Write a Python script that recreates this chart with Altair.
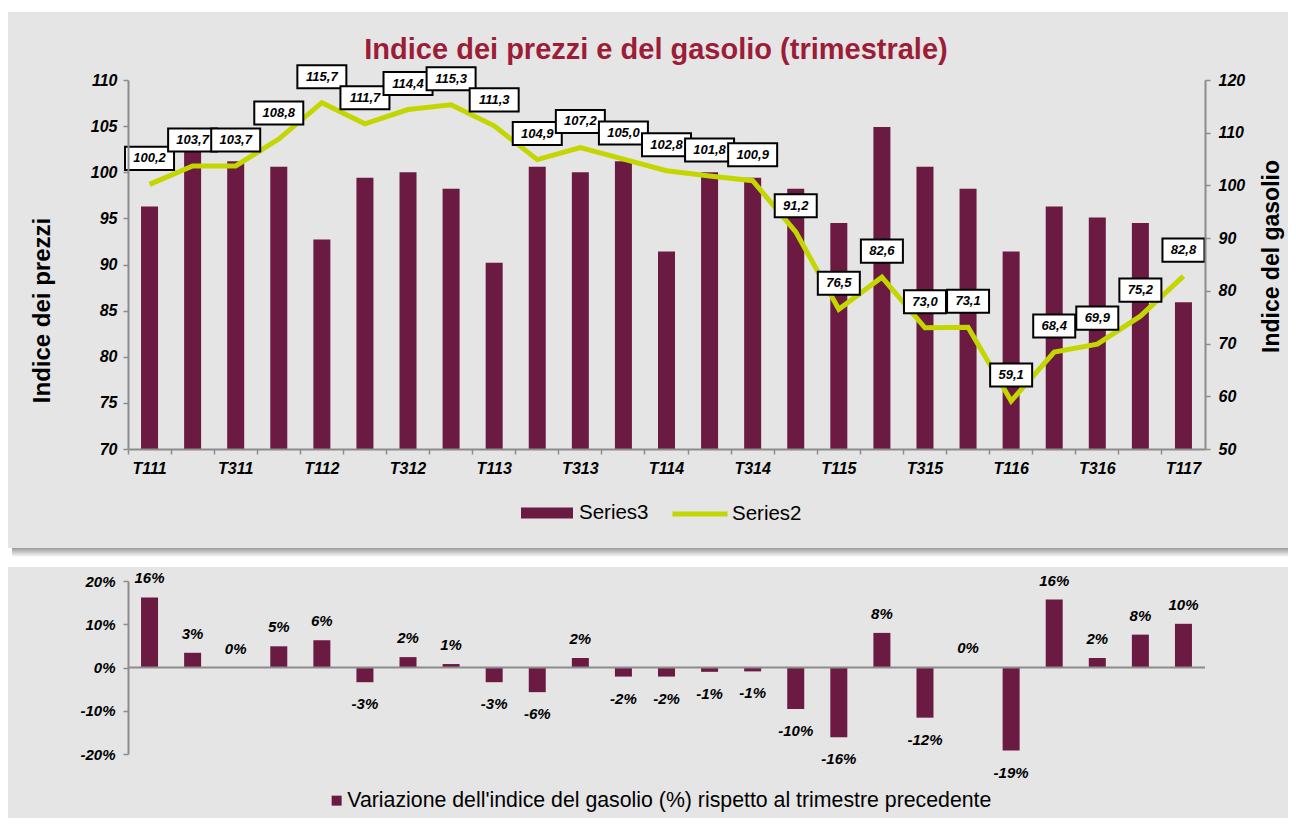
import altair as alt
import pandas as pd

# ---------------- data ----------------
quarters = ["T111", "T211", "T311", "T411", "T112", "T212", "T312", "T412",
            "T113", "T213", "T313", "T413", "T114", "T214", "T314", "T414",
            "T115", "T215", "T315", "T415", "T116", "T216", "T316", "T416",
            "T117"]
prezzi = [96.3, 102.7, 101.2, 100.6, 92.7, 99.4, 100.0, 98.2,
          90.2, 100.6, 100.0, 101.2, 91.4, 100.0, 99.4, 98.2,
          94.5, 104.9, 100.6, 98.2, 91.4, 96.3, 95.1, 94.5,
          85.9]
gasolio = [100.2, 103.7, 103.7, 108.8, 115.7, 111.7, 114.4, 115.3,
           111.3, 104.9, 107.2, 105.0, 102.8, 101.8, 100.9, 91.2,
           76.5, 82.6, 73.0, 73.1, 59.1, 68.4, 69.9, 75.2,
           82.8]
variazione_pct = [16.2, 3.4, 0.0, 4.9, 6.3, -3.4, 2.4, 0.8,
                  -3.4, -5.7, 2.2, -2.1, -2.1, -1.0, -0.9, -9.6,
                  -16.1, 8.0, -11.6, 0.1, -19.2, 15.7, 2.2, 7.6,
                  10.1]

series_bar = "Series3"
series_line = "Series2"
var_label = "Variazione dell'indice del gasolio (%) rispetto al trimestre precedente"
title_text = "Indice dei prezzi e del gasolio (trimestrale)"
left_title = "Indice dei prezzi"
right_title = "Indice del gasolio"

df = pd.DataFrame({"trimestre": quarters, "prezzi": prezzi,
                   "gasolio": gasolio, "var_pct": variazione_pct})
one = pd.DataFrame({"k": [0]})

# ---------------- style ----------------
W = 1077
H1 = 369
H2 = 173
FONT = "Liberation Sans"
MAROON = "#6b1a42"
LIME = "#c4d600"
PANEL = "#e5e5e5"
AXIS_GRAY = "#8c8c8c"
TITLE_RED = "#9c1d37"

shadow_fill = {"gradient": "linear", "x1": 0, "y1": 0, "x2": 0, "y2": 1,
               "stops": [{"offset": 0, "color": "#9a9a9a"},
                         {"offset": 1, "color": "#ffffff"}]}

x_scale = alt.Scale(paddingInner=0, paddingOuter=0)
x_top = alt.X(
    "trimestre:N", sort=quarters, scale=x_scale,
    axis=alt.Axis(title=None, bandPosition=0, zindex=1, labelFontSize=16,
                  labelExpr="(substring(datum.value,1,2)=='1' || substring(datum.value,1,2)=='3') ? datum.value : ''",
                  tickSize=5, labelPadding=6, labelAngle=0, labelBaseline="top"))

y_left = alt.Y(
    "prezzi:Q", scale=alt.Scale(domain=[70, 110], zero=False, nice=False),
    axis=alt.Axis(orient="left", values=list(range(70, 111, 5)), title=left_title,
                  titleX=-86, titleY=230, titleAngle=270, titleAlign="center", zindex=1,
                  titleBaseline="middle", titleFontSize=24, labelPadding=6,
                  labelFontSize=16))

y_right = alt.Y(
    "gasolio:Q", scale=alt.Scale(domain=[50, 120], zero=False, nice=False),
    axis=alt.Axis(orient="right", values=list(range(50, 121, 10)), title=right_title,
                  titleX=66, titleY=176, titleAngle=270, titleAlign="center", zindex=1,
                  titleBaseline="middle", titleFontSize=23, labelPadding=8,
                  labelFontSize=16))

# ---------------- top panel ----------------
panel_top = alt.Chart(one).mark_rect(color=PANEL).encode(
    x=alt.value(-120), x2=alt.value(1160), y=alt.value(-68), y2=alt.value(468))
shadow_top = alt.Chart(one).mark_rect(fill=shadow_fill).encode(
    x=alt.value(-116), x2=alt.value(1160), y=alt.value(468), y2=alt.value(477))
title = alt.Chart(one).mark_text(
    text=title_text, font=FONT, fontSize=29, fontWeight="bold", color=TITLE_RED,
    align="center", baseline="middle").encode(x=alt.value(528), y=alt.value(-30))

bars = alt.Chart(df).transform_calculate(serie=f"'{series_bar}'").mark_bar(width=17).encode(
    x=x_top, y=y_left, y2=alt.datum(70),
    color=alt.Color("serie:N", scale=alt.Scale(domain=[series_bar], range=[MAROON]),
                    legend=alt.Legend(title=None, orient="none", legendX=393, legendY=407,
                                      symbolType="M-1,-0.21L1,-0.21L1,0.21L-1,0.21Z",
                                      symbolSize=2704, symbolStrokeWidth=0,
                                      labelFontSize=20.5, labelOffset=6)))

line = alt.Chart(df).transform_calculate(serie2=f"'{series_line}'").mark_line(strokeWidth=5).encode(
    x=x_top, y=y_right,
    stroke=alt.Stroke("serie2:N", scale=alt.Scale(domain=[series_line], range=[LIME]),
                      legend=alt.Legend(title=None, orient="none", legendX=542, legendY=404,
                                        symbolType="stroke", symbolSize=3025,
                                        symbolStrokeWidth=5, labelFontSize=20.5, labelOffset=2)))

lab_expr = "replace(format(datum.gasolio, '.1f'), '.', ',')"
boxes = alt.Chart(df).transform_calculate(lab=lab_expr).transform_calculate(
    bshape="length(datum.lab) > 4 ? 'M-1,-0.47L1,-0.47L1,0.47L-1,0.47Z' : 'M-1,-0.55L1,-0.55L1,0.55L-1,0.55Z'",
    bsize="length(datum.lab) > 4 ? 2401 : 1764",
).mark_point(filled=True, fill="white", stroke="black", strokeWidth=2,
             opacity=1, fillOpacity=1, yOffset=-26).encode(
    x=x_top, y=y_right,
    shape=alt.Shape("bshape:N", scale=None),
    size=alt.Size("bsize:Q", scale=None))

box_text = alt.Chart(df).transform_calculate(lab=lab_expr).mark_text(
    font=FONT, fontSize=13, fontWeight="bold", fontStyle="italic", color="black",
    dy=-26, baseline="middle").encode(x=x_top, y=y_right, text="lab:N")

line_group = alt.layer(line, boxes, box_text)

top = alt.layer(panel_top, shadow_top, title, bars, line_group).resolve_scale(
    y="independent").properties(width=W, height=H1)

# ---------------- bottom panel ----------------
x_bot = alt.X("trimestre:N", sort=quarters, scale=x_scale, axis=None)
y_var = alt.Y(
    "v:Q", scale=alt.Scale(domain=[-0.2, 0.2], nice=False, zero=False),
    axis=alt.Axis(values=[-0.2, -0.1, 0, 0.1, 0.2], title=None, labelPadding=8, zindex=1,
                  labelExpr="(datum.value < 0 ? '-' : '') + format(abs(datum.value), '.0%')"))

pct_lab = "(datum.v < 0 ? '-' : '') + format(abs(datum.v), '.0%')"

panel_bot = alt.Chart(one).mark_rect(color=PANEL).encode(
    x=alt.value(-120), x2=alt.value(1160), y=alt.value(-14), y2=alt.value(237))

vbars = alt.Chart(df).transform_calculate(
    v="datum.var_pct / 100", serie3=f"\"{var_label}\"").mark_bar(width=17).encode(
    x=x_bot, y=y_var, y2=alt.datum(0),
    color=alt.Color("serie3:N", scale=alt.Scale(domain=[var_label], range=[MAROON]),
                    legend=alt.Legend(title=None, orient="none", legendX=198, legendY=209,
                                      symbolType="square", symbolSize=100,
                                      symbolStrokeWidth=0, labelFontSize=21.3,
                                      labelOffset=0, labelLimit=1000)))

zero_rule = alt.Chart(one).mark_rule(color=AXIS_GRAY, strokeWidth=2).encode(y=alt.datum(0))

vtext_pos = alt.Chart(df).transform_calculate(v="datum.var_pct / 100").transform_calculate(
    lab=pct_lab).transform_filter("datum.v >= 0").mark_text(
    font=FONT, fontSize=15, fontWeight="bold", fontStyle="italic", color="black",
    dy=-19, baseline="middle").encode(x=x_bot, y=y_var, text="lab:N")

vtext_neg = alt.Chart(df).transform_calculate(v="datum.var_pct / 100").transform_calculate(
    lab=pct_lab).transform_filter("datum.v < 0").mark_text(
    font=FONT, fontSize=15, fontWeight="bold", fontStyle="italic", color="black",
    dy=22, baseline="middle").encode(x=x_bot, y=y_var, text="lab:N")

bottom = alt.layer(panel_bot, vbars, zero_rule, vtext_pos, vtext_neg).properties(
    width=W, height=H2)

chart = alt.vconcat(top, bottom, spacing=132, bounds="flush").resolve_scale(
    color="independent", x="independent").properties(
    padding={"top": 4, "left": 0, "right": 0, "bottom": 0},
    background="white",
).configure_view(stroke=None).configure_axis(
    labelFont=FONT, titleFont=FONT, labelFontSize=15, labelFontWeight="bold",
    labelFontStyle="italic", labelColor="black", domainColor=AXIS_GRAY,
    domainWidth=2, tickColor=AXIS_GRAY, tickWidth=1.5, tickSize=5, grid=False,
    titleColor="black", titleFontWeight="bold",
).configure_legend(labelFont=FONT, labelColor="black", padding=0)

chart.save("out.html", embed_options={"renderer": "svg", "actions": False})
